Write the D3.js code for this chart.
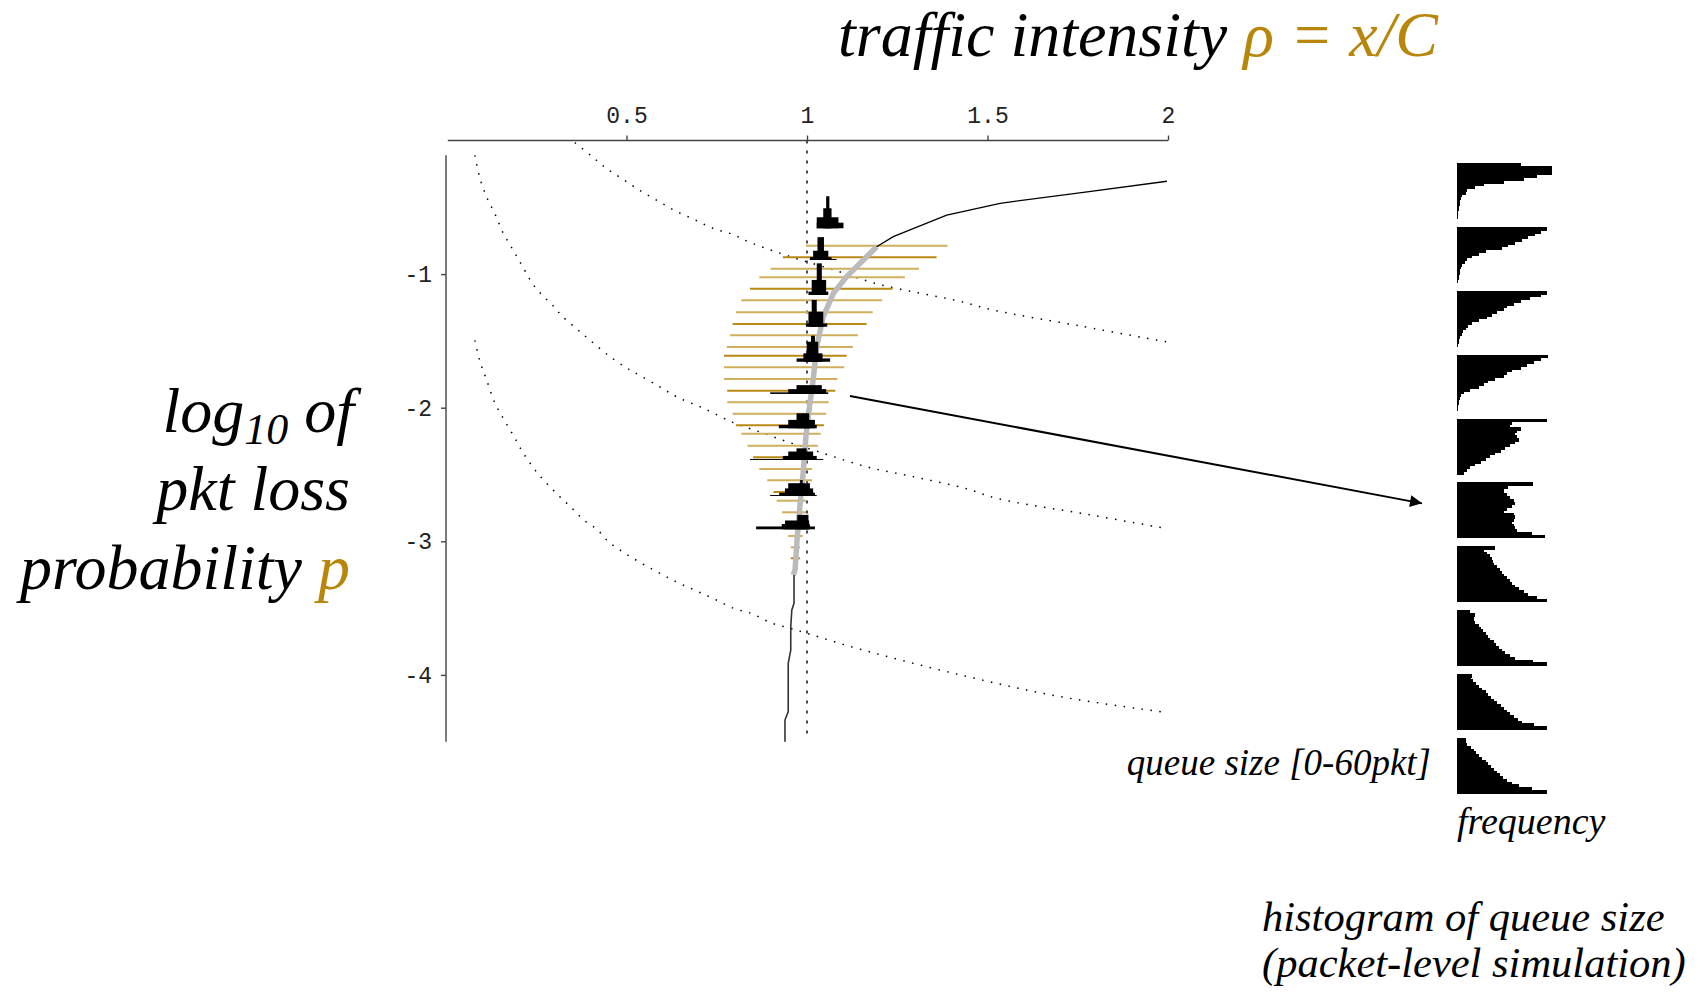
<!DOCTYPE html>
<html>
<head>
<meta charset="utf-8">
<script src="https://cdn.jsdelivr.net/npm/d3@7"></script>
<style>
  body { margin: 0; background: #fff; }
  text { font-family: "Liberation Serif", "Times New Roman", serif; }
  .tick text { font-family: "Liberation Mono", "Courier New", monospace; font-size: 23px; fill: #222; }
</style>
</head>
<body>
<svg id="chart" width="1702" height="992"></svg>
<script>
// ---- data ----
const xTicks = [0.5, 1, 1.5, 2];
const yTicks = [-1, -2, -3, -4];

// dotted iso-curves  [rho, log10 p]
const curveA = [[0.357,-0.016],[0.402,-0.114],[0.442,-0.204],[0.490,-0.290],[0.538,-0.376],[0.586,-0.451],
  [0.634,-0.525],[0.687,-0.590],[0.739,-0.657],[0.791,-0.700],[0.844,-0.765],[0.948,-0.864],[1.082,-0.975],
  [1.188,-1.069],[1.304,-1.138],[1.415,-1.198],[1.516,-1.269],[1.76,-1.39],[1.997,-1.508]];
const curveB = [[0.080,-0.111],[0.094,-0.282],[0.113,-0.425],[0.136,-0.552],[0.159,-0.696],[0.187,-0.825],
  [0.214,-0.953],[0.242,-1.081],[0.270,-1.167],[0.297,-1.238],[0.320,-1.310],[0.362,-1.410],[0.399,-1.495],
  [0.450,-1.609],[0.496,-1.695],[0.524,-1.739],[0.59,-1.84],[0.64,-1.92],[0.713,-2.004],[0.796,-2.112],
  [0.875,-2.187],[0.953,-2.262],[1.031,-2.329],[1.165,-2.442],[1.304,-2.522],[1.442,-2.606],[1.525,-2.678],
  [1.78,-2.80],[1.997,-2.905]];
const curveC = [[0.080,-1.496],[0.094,-1.653],[0.113,-1.796],[0.136,-1.968],[0.159,-2.081],[0.187,-2.210],
  [0.214,-2.339],[0.247,-2.467],[0.279,-2.567],[0.316,-2.668],[0.349,-2.753],[0.381,-2.839],[0.418,-2.910],
  [0.450,-3.003],[0.493,-3.085],[0.542,-3.165],[0.593,-3.240],[0.643,-3.310],[0.694,-3.372],[0.745,-3.434],
  [0.796,-3.501],[0.848,-3.542],[0.899,-3.609],[0.953,-3.651],[1.006,-3.694],[1.146,-3.807],[1.423,-3.999],
  [1.700,-4.162],[1.996,-4.282]];

// measured rho vs loss: thin black (fluid model), grey thick (simulation), thin black
const upperLine = [[1.997,-0.305],[1.771,-0.386],[1.535,-0.470],[1.387,-0.558],[1.239,-0.720],[1.193,-0.795]];
const greyLine = [[1.193,-0.795],[1.110,-1.019],[1.073,-1.144],[1.045,-1.319],[1.027,-1.543],[1.017,-1.793],
  [1.008,-1.967],[0.997,-2.217],[0.990,-2.466],[0.981,-2.716],[0.973,-2.966],[0.967,-3.215],[0.962,-3.252]];
const lowerLine = [[0.964,-3.252],[0.964,-3.464],[0.958,-3.514],[0.955,-3.639],[0.955,-3.814],[0.948,-3.913],
  [0.948,-4.275],[0.939,-4.338],[0.939,-4.500]];

// range of rho at each loss level  [log10 p, rhoLow, rhoHigh]
const ranges = [[-0.787,0.997,1.389],[-0.874,0.933,1.359],[-0.960,0.899,1.310],[-1.024,0.868,1.271],
  [-1.109,0.842,1.237],[-1.196,0.818,1.208],[-1.286,0.803,1.182],[-1.374,0.794,1.165],[-1.458,0.787,1.141],
  [-1.546,0.778,1.127],[-1.611,0.770,1.110],[-1.698,0.770,1.103],[-1.785,0.770,1.084],[-1.873,0.779,1.078],
  [-1.960,0.779,1.060],[-2.045,0.794,1.053],[-2.132,0.803,1.047],[-2.195,0.818,1.038],[-2.284,0.835,1.030],
  [-2.371,0.851,1.022],[-2.459,0.868,1.014],[-2.543,0.890,1.014],[-2.631,0.907,0.994],[-2.696,0.916,0.997],
  [-2.783,0.931,0.997],[-2.870,0.939,0.994],[-2.960,0.948,0.988],[-3.045,0.955,0.981],[-3.127,0.955,0.981]];

// histograms of rho at ten loss levels: [rhoLow, rhoHigh, frequency]
const histLevels = [-0.657,-0.894,-1.156,-1.394,-1.656,-1.897,-2.154,-2.391,-2.661,-2.910];
const rhoHists = [
  [[1.027,1.101,0.14],[1.027,1.087,0.275],[1.045,1.068,0.5],[1.053,1.062,0.8]],
  [[1.008,1.082,0.025],[1.008,1.068,0.07],[1.017,1.059,0.23],[1.029,1.047,0.57]],
  [[1.004,1.059,0.083],[1.013,1.053,0.375],[1.027,1.041,0.79]],
  [[0.997,1.056,0.083],[1.004,1.045,0.375],[1.013,1.027,0.67]],
  [[0.971,1.064,0.083],[0.990,1.043,0.21],[0.999,1.031,0.5],[1.011,1.022,0.65]],
  [[0.898,1.059,0.04],[0.948,1.053,0.12],[0.971,1.041,0.22]],
  [[0.922,1.027,0.083],[0.948,1.022,0.21],[0.971,1.006,0.375]],
  [[0.842,1.045,0.025],[0.933,1.027,0.1],[0.948,1.017,0.21],[0.971,0.999,0.29]],
  [[0.898,1.027,0.025],[0.923,1.022,0.083],[0.939,1.017,0.19],[0.948,1.008,0.32],[0.981,0.988,0.4]],
  [[0.859,1.022,0.07],[0.930,1.008,0.13],[0.939,1.006,0.22],[0.973,1.004,0.36]]
];

// queue size histograms (60 pkt buffer, 3 pkt bins, listed from 60 down to 0), frequency in %
const queueHists = [
  [67,100,100,100,84,70,49,28,19,11,9,5,4,3.5,3,2.5,2,1.5,1,1],
  [95,88,82,75,68,61,54,47,30,23,16,11,8,5,4,3.5,3,2,2,1.5],
  [95,88,77,67,60,53,49,42,37,32,23,16,12,9,6,5,3.5,2.5,2,1],
  [96,88,81,74,67,58,53,49,40,33,28,23,14,7,4,3,2.5,2,1.5,1.5],
  [95,58,56,67,63,61,63,65,61,56,51,46,40,35,30,25,19,14,10,7],
  [80,54,49,49,53,56,60,61,58,53,49,60,61,60,58,60,61,63,79,93],
  [40,28,32,35,37,38,39,42,45,47,49,53,56,58,61,65,70,75,84,95],
  [14,19,18,18,19,23,25,27,30,33,35,39,41,44,47,51,56,61,80,95],
  [16,15,17,20,23,26,30,33,36,39,42,46,49,53,56,60,64,68,81,95],
  [9,9.5,11,15,18,20,23,26,30,33,36,39,42,45,48,53,58,65,79,95]
];

const gold = "#b8860b";

// ---- scales ----
const svg = d3.select("#chart");
const x = d3.scaleLinear().domain([0, 2]).range([446, 1168]);
const y = d3.scaleLinear().domain([0, -4.5]).range([140.5, 741.7]);
const h = d3.scaleLinear().domain([0, 1]).range([0, 40]);

const line = d3.line().x(d => x(d[0])).y(d => y(d[1]));
const smooth = d3.line().x(d => x(d[0])).y(d => y(d[1])).curve(d3.curveCatmullRom);

// dotted curves
[curveA, curveB, curveC].forEach(c => {
  svg.append("path").attr("d", smooth(c))
    .attr("fill", "none").attr("stroke", "#000")
    .attr("stroke-width", 1.5).attr("stroke-dasharray", "1.5 7.5");
});

// rho = 1 reference
svg.append("line")
  .attr("x1", x(1)).attr("x2", x(1))
  .attr("y1", y(0)).attr("y2", y(-4.44))
  .attr("stroke", "#000").attr("stroke-width", 1.4).attr("stroke-dasharray", "3 7");

// ranges
svg.append("g").selectAll("line").data(ranges).join("line")
  .attr("x1", d => x(d[1])).attr("x2", d => x(d[2]))
  .attr("y1", d => y(d[0])).attr("y2", d => y(d[0]))
  .attr("stroke", (d, i) => i % 3 === 1 ? "#b88a14" : "#cfae5c")
  .attr("stroke-width", 2);

// grey simulation curve + black lines
svg.append("path").attr("d", line(greyLine))
  .attr("fill", "none").attr("stroke", "#bbbbbb").attr("stroke-width", 5.5);
svg.append("path").attr("d", line(upperLine))
  .attr("fill", "none").attr("stroke", "#000").attr("stroke-width", 1.3);
svg.append("path").attr("d", line(lowerLine))
  .attr("fill", "none").attr("stroke", "#333").attr("stroke-width", 1.6);

// rho histograms
rhoHists.forEach((bins, i) => {
  const base = histLevels[i];
  svg.append("g").selectAll("rect").data(bins).join("rect")
    .attr("x", d => x(d[0]))
    .attr("width", d => x(d[1]) - x(d[0]))
    .attr("y", d => y(base) - h(d[2]))
    .attr("height", d => Math.max(1, h(d[2])))
    .attr("fill", "#000");
});

// axes
const xAxis = d3.axisTop(x).tickValues(xTicks).tickFormat(d => String(d))
  .tickSize(5).tickPadding(13).tickSizeOuter(0);
const gx = svg.append("g").attr("transform", `translate(0,${y(0)})`).call(xAxis);
gx.select(".domain").attr("d", `M${x(0.005)},0H${x(2)}`);

const yAxis = d3.axisLeft(y).tickValues(yTicks).tickFormat(d => String(d))
  .tickSize(5).tickPadding(9).tickSizeOuter(0);
const gy = svg.append("g").attr("transform", `translate(${x(0)},0)`).call(yAxis);
gy.select(".domain").attr("d", `M0,${y(-0.11)}V${y(-4.5)}`);
svg.selectAll(".domain, .tick line").attr("stroke", "#444").attr("stroke-width", 1.4);

// queue histograms on the right
const band = d3.scaleBand().domain(d3.range(queueHists.length)).range([163.3, 792.7]).paddingInner(0.137);
const q = d3.scaleLinear().domain([0, 60]).range([band.bandwidth(), 0]);
const f = d3.scaleLinear().domain([0, 100]).range([0, 95]);
const qLeft = 1457;

queueHists.forEach((vals, i) => {
  const g = svg.append("g").attr("transform", `translate(${qLeft},${band(i)})`)
    .attr("shape-rendering", "crispEdges");
  g.selectAll("rect").data(vals).join("rect")
    .attr("x", 0)
    .attr("y", (d, j) => q(60 - 3 * j))
    .attr("height", (d, j) => q(60 - 3 * (j + 1)) - q(60 - 3 * j) + 1)
    .attr("width", d => f(d))
    .attr("fill", "#000");
});

// arrow from the simulation curve to a queue histogram
svg.append("defs").append("marker")
  .attr("id", "head").attr("viewBox", "0 0 10 10")
  .attr("refX", 10).attr("refY", 5)
  .attr("markerWidth", 17).attr("markerHeight", 12)
  .attr("markerUnits", "userSpaceOnUse")
  .attr("orient", "auto")
  .append("path").attr("d", "M0,0L10,5L0,10Z").attr("fill", "#000");

svg.append("line")
  .attr("x1", x(1.119)).attr("y1", y(-1.912))
  .attr("x2", qLeft - 35).attr("y2", band(5) + 21)
  .attr("stroke", "#000").attr("stroke-width", 2)
  .attr("marker-end", "url(#head)");

// ---- text ----
const title = svg.append("text")
  .attr("x", 1438).attr("y", 56).attr("text-anchor", "end")
  .attr("font-size", 64).attr("font-style", "italic");
title.append("tspan").text("traffic intensity ");
title.append("tspan").attr("fill", gold).text("ρ = x/C");

const yl = svg.append("g").attr("font-size", 64).attr("font-style", "italic").attr("text-anchor", "end");
const l1 = yl.append("text").attr("x", 354).attr("y", 432);
l1.append("tspan").text("log");
l1.append("tspan").attr("font-size", 44).attr("dy", 12).text("10");
l1.append("tspan").attr("dy", -12).text(" of");
yl.append("text").attr("x", 350).attr("y", 510).text("pkt loss");
const l3 = yl.append("text").attr("x", 350).attr("y", 589);
l3.append("tspan").text("probability ");
l3.append("tspan").attr("fill", gold).text("p");

svg.append("text").attr("x", 1431).attr("y", 775).attr("text-anchor", "end")
  .attr("font-size", 37).attr("font-style", "italic").text("queue size [0-60pkt]");
svg.append("text").attr("x", 1457).attr("y", 834)
  .attr("font-size", 38).attr("font-style", "italic").text("frequency");
svg.append("text").attr("x", 1262).attr("y", 931)
  .attr("font-size", 42.5).attr("font-style", "italic").text("histogram of queue size");
svg.append("text").attr("x", 1262).attr("y", 977)
  .attr("font-size", 42.5).attr("font-style", "italic").text("(packet-level simulation)");
</script>
</body>
</html>
